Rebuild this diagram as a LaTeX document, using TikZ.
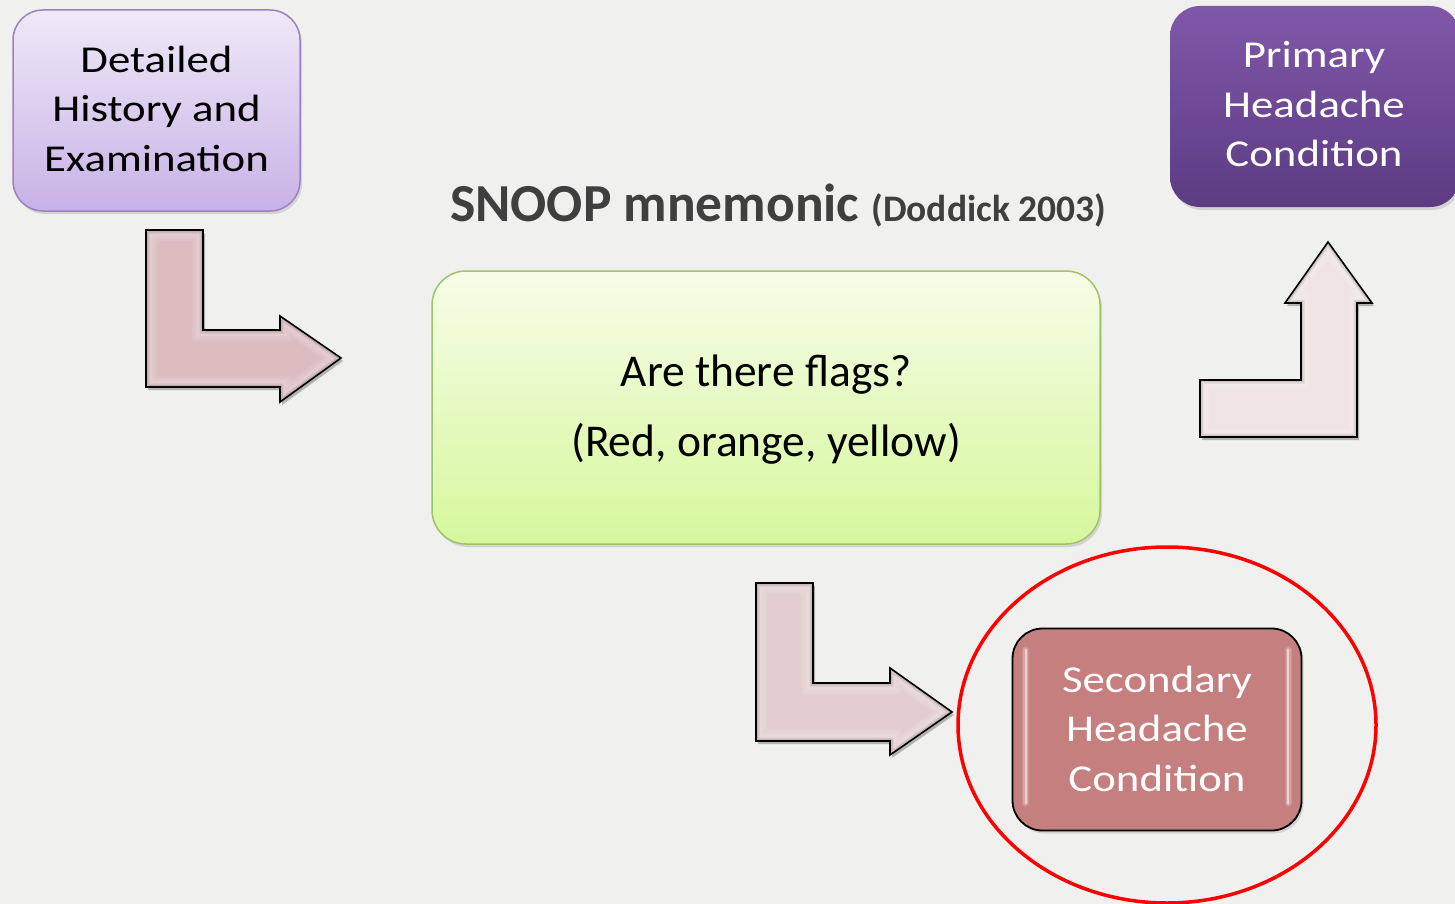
\documentclass[tikz,border=0pt]{standalone}
\usepackage{fontspec}
\usepackage{graphicx}
\setmainfont{Carlito}
\usetikzlibrary{shadows}
\definecolor{bg}{HTML}{F0F0EE}
\definecolor{lavtop}{HTML}{EFE9F8}
\definecolor{lavbot}{HTML}{C8B2E6}
\definecolor{lavline}{HTML}{9C82C2}
\definecolor{grtop}{HTML}{F6FDE8}
\definecolor{grbot}{HTML}{D6F79C}
\definecolor{grline}{HTML}{9CC46A}
\definecolor{putop}{HTML}{8058AA}
\definecolor{pubot}{HTML}{5C3B82}
\definecolor{rosefill}{HTML}{C47F7E}
\definecolor{titlegray}{HTML}{3F3F3F}
\definecolor{arrA}{HTML}{DCBCBF}
\definecolor{arrB}{HTML}{E3CDCE}
\definecolor{arrC}{HTML}{EFE3E3}
\newcommand\widetext[1]{\scalebox{1.18}[1]{\begin{tabular}{@{}c@{}}#1\end{tabular}}}
\tikzset{
  boxtext/.style={font=\fontsize{38}{49.5}\selectfont, align=center, inner sep=0pt},
  stepbox/.style={rounded corners=30pt, inner sep=0pt,
     drop shadow={shadow xshift=2pt, shadow yshift=-3pt, opacity=0.25}},
  bentarrow/.style={draw=black, line width=1.6pt, line join=miter},
  arrowshadow/.style={fill=black, opacity=0.25},
  pathA/.style={insert path={(146,230) -- (203,230) -- (203,330) -- (280,330) -- (280,316)
     -- (341,358) -- (280,402) -- (280,387) -- (146,387) -- cycle}},
  pathB/.style={insert path={(756,583) -- (813,583) -- (813,683) -- (890,683) -- (890,668)
     -- (952,712) -- (890,755) -- (890,741) -- (756,741) -- cycle}},
  pathC/.style={insert path={(1200,380) -- (1301,380) -- (1301,303) -- (1285,303) -- (1328,242)
     -- (1372,303) -- (1357,303) -- (1357,437) -- (1200,437) -- cycle}},
}
\begin{document}
\begin{tikzpicture}[x=1pt,y=-1pt]
\fill[bg] (0,0) rectangle (1455,904);
\useasboundingbox (0,0) rectangle (1455,904);

% boxes
\node[stepbox, minimum width=287pt, minimum height=201pt, draw=lavline, line width=1.5pt,
  top color=lavtop, bottom color=lavbot] (hist) at (156.5,110.5) {};
\node[boxtext] (histtxt) at ([yshift=-1.5pt]hist.center)
  {\widetext{Detailed\\History and\\Examination}};

\node[stepbox, rounded corners=34pt, minimum width=668pt, minimum height=273pt, draw=grline, line width=1.5pt,
  top color=grtop, bottom color=grbot] (flags) at (766,407.5) {};
\node[inner sep=0pt, align=center, font=\fontsize{45.5}{55.5}\selectfont] (flagstxt)
  at ([yshift=-2pt]flags.center) {Are there flags?\\[14.5pt](Red, orange, yellow)};

\node[stepbox, minimum width=290pt, minimum height=201pt,
  top color=putop, bottom color=pubot] (prim) at (1315,106.5) {};
\node[boxtext, text=white] (primtxt) at ([xshift=-1pt,yshift=-1pt]prim.center)
  {\widetext{Primary\\Headache\\Condition}};

\node[stepbox, minimum width=289pt, minimum height=202pt, draw=black, line width=1.8pt,
  fill=rosefill] (sec) at (1157,729.5) {};
\foreach \w/\o in {7/0.12, 4.5/0.2, 2/0.5}{
  \draw[white, opacity=\o, line width=\w pt, line cap=round] ([xshift=14pt,yshift=-22pt]sec.north west) -- ([xshift=14pt,yshift=28pt]sec.south west);
  \draw[white, opacity=\o, line width=\w pt, line cap=round] ([xshift=-14pt,yshift=-22pt]sec.north east) -- ([xshift=-14pt,yshift=28pt]sec.south east);
}
\node[boxtext, text=white] (sectxt) at ([yshift=-2.3pt]sec.center)
  {\widetext{Secondary\\Headache\\Condition}};

% title
\node[anchor=base west, inner sep=0pt, text=titlegray] (title) at (450,221.5)
  {\fontsize{53.5}{58}\selectfont\bfseries SNOOP mnemonic \fontsize{37.5}{40}\selectfont(Doddick 2003)};

% highlight ellipse
\draw[red, line width=3.5pt] (1167,725) ellipse [x radius=209pt, y radius=178pt];

% bent arrows with soft bevel
\foreach \p/\c in {pathA/arrA, pathB/arrB, pathC/arrC}{
  \fill[arrowshadow, xshift=2pt, yshift=-3pt, \p];
  \fill[\c, \p];
  \begin{scope}
    \clip[\p];
    \foreach \w in {22,17,12}{\draw[white, opacity=0.1, line width=\w pt, \p];}
    \foreach \w in {7,4}{\draw[black, opacity=0.08, line width=\w pt, \p];}
  \end{scope}
  \draw[bentarrow, \p];
}
\end{tikzpicture}
\end{document}
